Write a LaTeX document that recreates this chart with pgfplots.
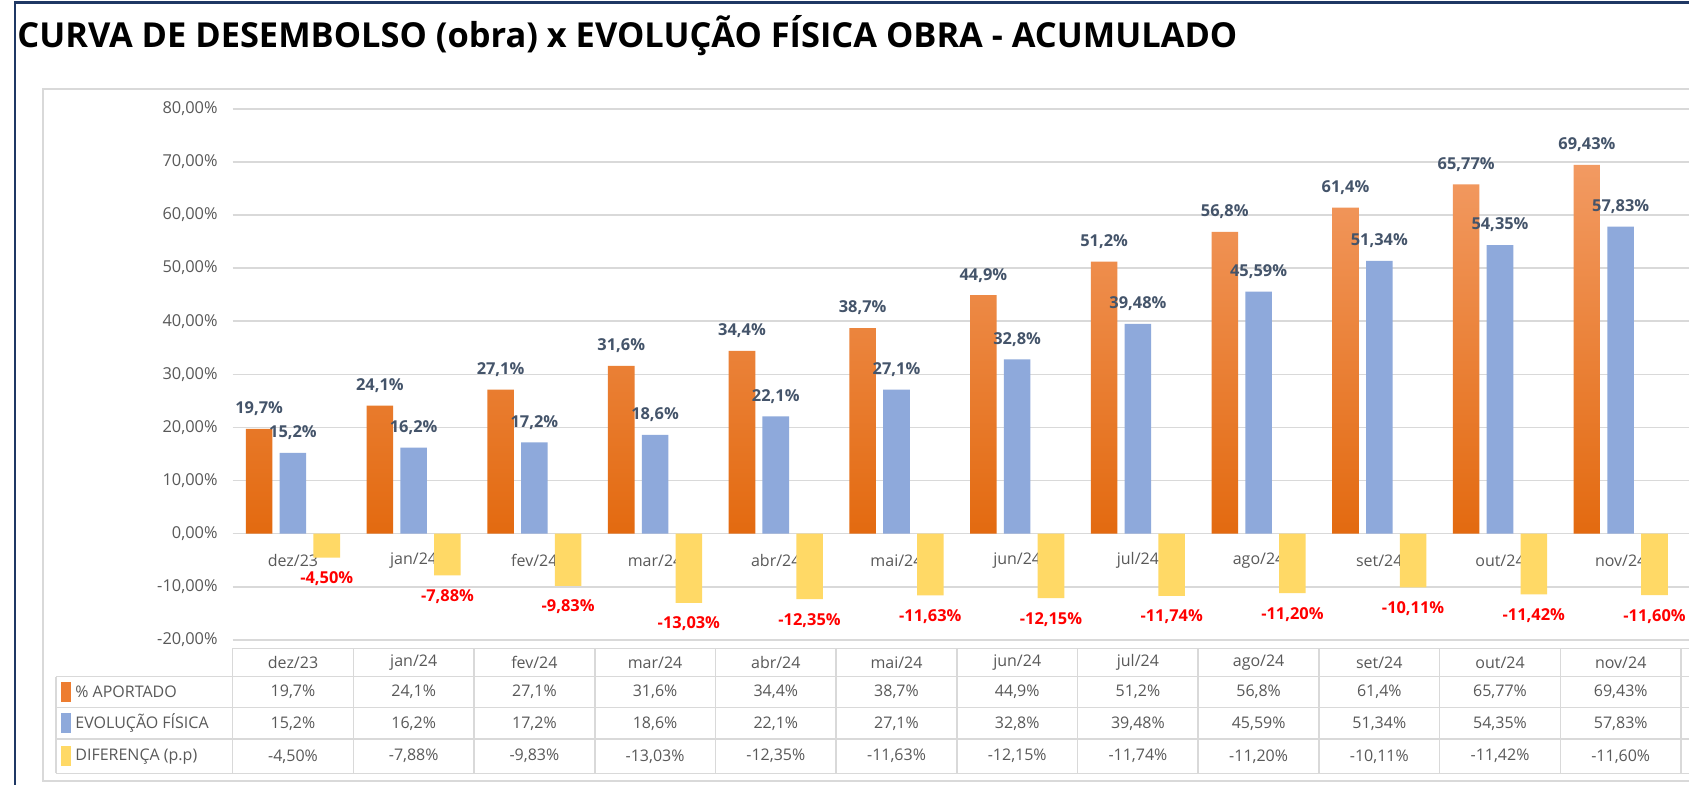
\documentclass[border=0pt]{standalone}
\usepackage{pgfplots}
\pgfplotsset{compat=1.18}
\usepackage{fontspec}
\setmainfont{Open Sans}
\definecolor{orangeT}{HTML}{F29A62}
\definecolor{orangeB}{HTML}{E36A10}
\definecolor{orangeK}{HTML}{ED7D31}
\definecolor{blueB}{HTML}{8EA9DB}
\definecolor{yellowB}{HTML}{FFD966}
\definecolor{lblgray}{HTML}{44546A}
\definecolor{txtgray}{HTML}{595959}
\definecolor{gridgray}{HTML}{D9D9D9}
\definecolor{navy}{HTML}{1F3864}
\begin{document}
\begin{tikzpicture}[x=1pt,y=1pt]
\useasboundingbox (0,0) rectangle (844.5,392);
\fill[white] (0,0) rectangle (844.5,392);
\draw[navy, line width=1.2pt] (7.5,-5) -- (7.5,390.8) -- (850,390.8);
\draw[gridgray, line width=0.8pt] (21.5,1.5) rectangle (850,347.5);
\node[anchor=base west, inner sep=0pt, font=\bfseries\fontsize{17.2}{20}\selectfont] at (8.5,368) {CURVA DE DESEMBOLSO (obra) x EVOLUÇÃO FÍSICA OBRA - ACUMULADO};
\begin{axis}[
  at={(116.3pt,72.1pt)}, anchor=south west,
  scale only axis, width=728.2pt, height=265.5pt,
  xmin=-0.5, xmax=11.566, ymin=-20, ymax=80,
  clip=false,
  axis line style={draw=none},
  major tick length=0pt,
  ymajorgrids, grid style={gridgray, line width=0.8pt},
  ytick={-20,-10,...,80},
  /pgf/number format/assume math mode=true,
  yticklabel={\pgfmathprintnumber[fixed,zerofill,precision=2,use comma]{\tick}\%},
  yticklabel style={font=\fontsize{8.2}{10}\selectfont, text=txtgray, xshift=-4pt},
  xtick={0,...,11},
  xticklabels={dez/23,jan/24,fev/24,mar/24,abr/24,mai/24,jun/24,jul/24,ago/24,set/24,out/24,nov/24},
  xticklabel style={font=\fontsize{8}{10}\selectfont, text=txtgray, anchor=center, yshift=39.6pt},
]
\addplot[ybar, bar width=0.22, bar shift=-0.28, draw=none, shading=axis, top color=orangeT, bottom color=orangeB,
  nodes near coords={\pgfmathprintnumber[precision=2,use comma]{\pgfplotspointmeta}\%},
  every node near coord/.append style={font=\bfseries\fontsize{8.2}{10}\selectfont, text=lblgray, yshift=3pt, xshift=-16.9pt}]
coordinates {(0,19.7) (1,24.1) (2,27.1) (3,31.6) (4,34.4) (5,38.7) (6,44.9) (7,51.2) (8,56.8) (9,61.4) (10,65.77) (11,69.43)};
\addplot[ybar, bar width=0.22, bar shift=0, draw=none, fill=blueB,
  nodes near coords={\pgfmathprintnumber[precision=2,use comma]{\pgfplotspointmeta}\%},
  every node near coord/.append style={font=\bfseries\fontsize{8.2}{10}\selectfont, text=lblgray, yshift=3pt}]
coordinates {(0,15.2) (1,16.2) (2,17.2) (3,18.6) (4,22.1) (5,27.1) (6,32.8) (7,39.48) (8,45.59) (9,51.34) (10,54.35) (11,57.83)};
\addplot[ybar, bar width=0.22, bar shift=0.28, draw=none, fill=yellowB,
  nodes near coords={\pgfmathprintnumber[fixed,zerofill,precision=2,use comma]{\pgfplotspointmeta}\%},
  every node near coord/.append style={font=\bfseries\fontsize{8.2}{10}\selectfont, text=red, yshift=-3.5pt, xshift=16.9pt}]
coordinates {(0,-4.50) (1,-7.88) (2,-9.83) (3,-13.03) (4,-12.35) (5,-11.63) (6,-12.15) (7,-11.74) (8,-11.20) (9,-10.11) (10,-11.42) (11,-11.60)};
\end{axis}
\begin{scope}[shift={(146.5pt,125.4pt)}, x=60.35pt, y=2.655pt, font=\fontsize{8}{10}\selectfont, text=txtgray]
  \draw[gridgray, line width=0.8pt] (-0.5,-21.71) -- (12.5,-21.71);
  \foreach \yy in {-26.99,-32.86,-38.76,-45.24} \draw[gridgray, line width=0.8pt] (-1.963,\yy) -- (12.5,\yy);
  \draw[gridgray, line width=0.8pt] (-1.963,-26.99) -- (-1.963,-45.24);
  \foreach \k in {-1,...,11} \draw[gridgray, line width=0.8pt] (\k+0.5,-21.71) -- (\k+0.5,-45.24);
  \foreach \v [count=\i from 0] in {dez/23,jan/24,fev/24,mar/24,abr/24,mai/24,jun/24,jul/24,ago/24,set/24,out/24,nov/24}
    \node at (\i,-24.35) {\v};
  \foreach \v [count=\i from 0] in {{19,7\%},{24,1\%},{27,1\%},{31,6\%},{34,4\%},{38,7\%},{44,9\%},{51,2\%},{56,8\%},{61,4\%},{65,77\%},{69,43\%}}
    \node at (\i,-29.93) {\v};
  \foreach \v [count=\i from 0] in {{15,2\%},{16,2\%},{17,2\%},{18,6\%},{22,1\%},{27,1\%},{32,8\%},{39,48\%},{45,59\%},{51,34\%},{54,35\%},{57,83\%}}
    \node at (\i,-35.81) {\v};
  \foreach \v [count=\i from 0] in {{-4,50\%},{-7,88\%},{-9,83\%},{-13,03\%},{-12,35\%},{-11,63\%},{-12,15\%},{-11,74\%},{-11,20\%},{-10,11\%},{-11,42\%},{-11,60\%}}
    \node at (\i,-42.0) {\v};
  \fill[orangeK] (-1.923,-28.05) rectangle ++(0.083,-3.76);
  \fill[blueB] (-1.923,-33.93) rectangle ++(0.083,-3.76);
  \fill[yellowB] (-1.923,-40.12) rectangle ++(0.083,-3.76);
  \node[anchor=west, inner sep=0pt] at (-1.806,-29.93) {\% APORTADO};
  \node[anchor=west, inner sep=0pt] at (-1.806,-35.81) {EVOLUÇÃO FÍSICA};
  \node[anchor=west, inner sep=0pt] at (-1.806,-42.0) {DIFERENÇA (p.p)};
\end{scope}
\end{tikzpicture}
\end{document}
